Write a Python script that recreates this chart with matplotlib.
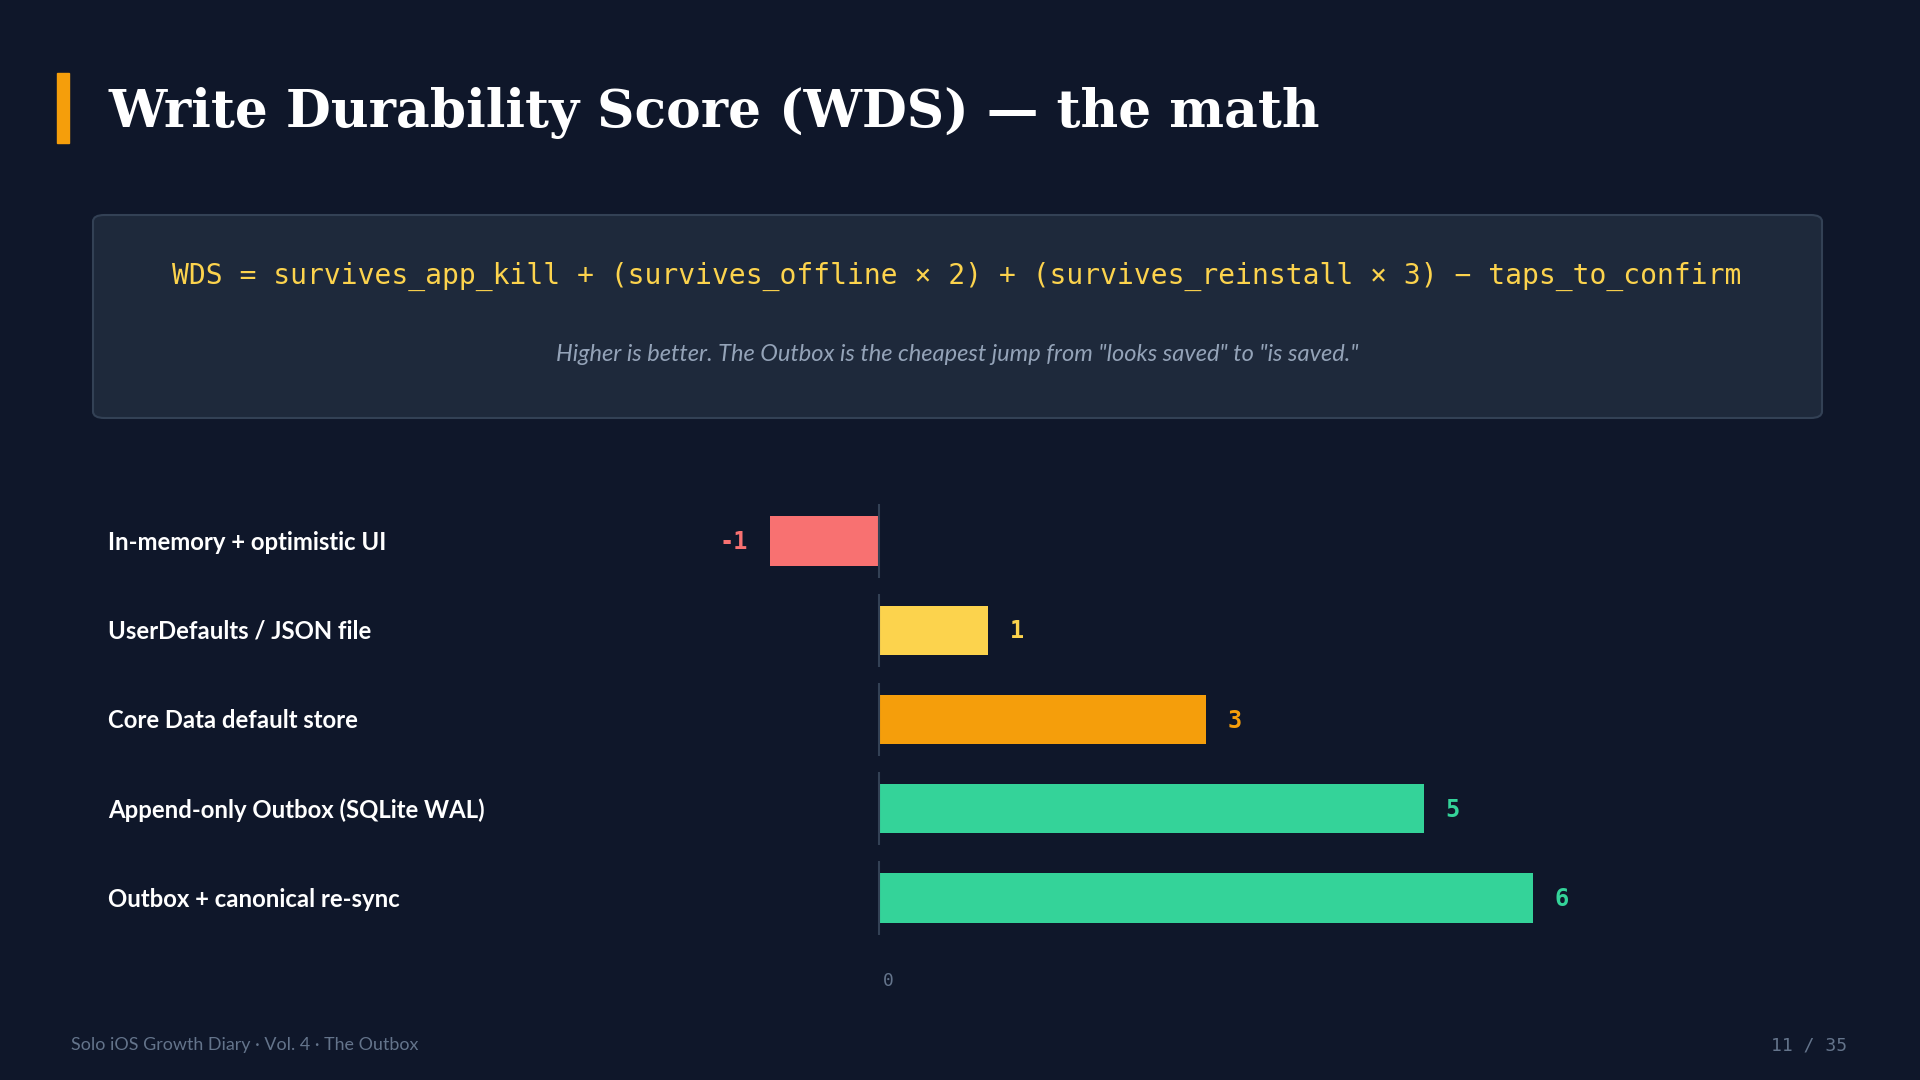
import matplotlib.pyplot as plt
import matplotlib.transforms as mtransforms
from matplotlib.patches import FancyBboxPatch, Rectangle

# slide data
categories = [
    "In-memory + optimistic UI",
    "UserDefaults / JSON file",
    "Core Data default store",
    "Append-only Outbox (SQLite WAL)",
    "Outbox + canonical re-sync",
]
scores = [-1, 1, 3, 5, 6]
bar_colors = ["#f87171", "#fcd34d", "#f59e0b", "#34d399", "#34d399"]

title = "Write Durability Score (WDS) \u2014 the math"
formula = ("WDS = survives_app_kill + (survives_offline \u00d7 2) + "
           "(survives_reinstall \u00d7 3) \u2212 taps_to_confirm")
note = 'Higher is better. The Outbox is the cheapest jump from "looks saved" to "is saved."'
footer_left = "Solo iOS Growth Diary \u00b7 Vol. 4 \u00b7 The Outbox"
footer_right = "11 / 35"

BG = "#0f172a"
W, H = 1920, 1080

fig = plt.figure(figsize=(19.2, 10.8), dpi=100, facecolor=BG)


def fx(px):
    return px / W


def fy(py):
    return 1 - py / H


# title with accent bar
fig.patches.append(Rectangle((fx(57), fy(143)), fx(12), (143 - 73) / H,
                             transform=fig.transFigure, color="#f59e0b"))
fig.text(fx(108), fy(113), title, color="white", fontsize=37.4,
         fontfamily="DejaVu Serif", fontweight="bold", va="center", ha="left")

# formula box
box = FancyBboxPatch((fx(93), fy(418)), fx(1822 - 93), (418 - 215) / H,
                     boxstyle="round,pad=0,rounding_size=0.006",
                     transform=fig.transFigure, facecolor="#1e293b",
                     edgecolor="#334155", linewidth=1.5)
fig.patches.append(box)
fig.text(fx(957), fy(276.5), formula, color="#fcd34d", fontsize=20.15,
         fontfamily="DejaVu Sans Mono", ha="center", va="center")
fig.text(fx(957), fy(354.5), note, color="#94a3b8", fontsize=17,
         fontfamily="Lato", style="italic", ha="center", va="center")

# bar chart
x_lo, x_hi = -2.0, 8.6
unit = 109
zero_px = 879
left_px = zero_px + x_lo * unit
right_px = zero_px + x_hi * unit
row_step = 89.2
top_px = 541 - row_step / 2
bot_px = 898 + row_step / 2
ax = fig.add_axes([fx(left_px), fy(bot_px), fx(right_px - left_px), (bot_px - top_px) / H])
ax.set_facecolor("none")
ax.set_xlim(x_lo, x_hi)
ax.set_ylim(len(categories) - 0.5, -0.5)
ax.axis("off")

ypos = list(range(len(categories)))
ax.barh(ypos, scores, height=0.55, color=bar_colors, zorder=2)
ax.vlines([0] * len(ypos), [y - 0.41 for y in ypos], [y + 0.41 for y in ypos],
          color="#334155", linewidth=1.5, zorder=3)

label_tf = mtransforms.blended_transform_factory(fig.transFigure, ax.transData)
for y, name, val, col in zip(ypos, categories, scores, bar_colors):
    ax.text(fx(108), y + 0.012, name, transform=label_tf, color="white", fontsize=17.2,
            fontfamily="Lato", fontweight="bold", ha="left", va="center")
    off = 0.2 if val >= 0 else -0.2
    ax.text(val + off, y + 0.012, str(val), color=col, fontsize=17,
            fontfamily="DejaVu Sans Mono", fontweight="bold",
            ha="left" if val >= 0 else "right", va="center")

tick_tf = mtransforms.blended_transform_factory(ax.transData, fig.transFigure)
ax.text(0.04, fy(981), "0", transform=tick_tf, color="#64748b", fontsize=13,
        fontfamily="DejaVu Sans Mono", ha="left", va="center")

# footer
fig.text(fx(71), fy(1045), footer_left, color="#64748b", fontsize=12.85,
         fontfamily="Lato", ha="left", va="center")
fig.text(fx(1847), fy(1045), footer_right, color="#64748b", fontsize=13,
         fontfamily="DejaVu Sans Mono", ha="right", va="center")

fig.savefig("out.png", dpi=100, facecolor=BG)
